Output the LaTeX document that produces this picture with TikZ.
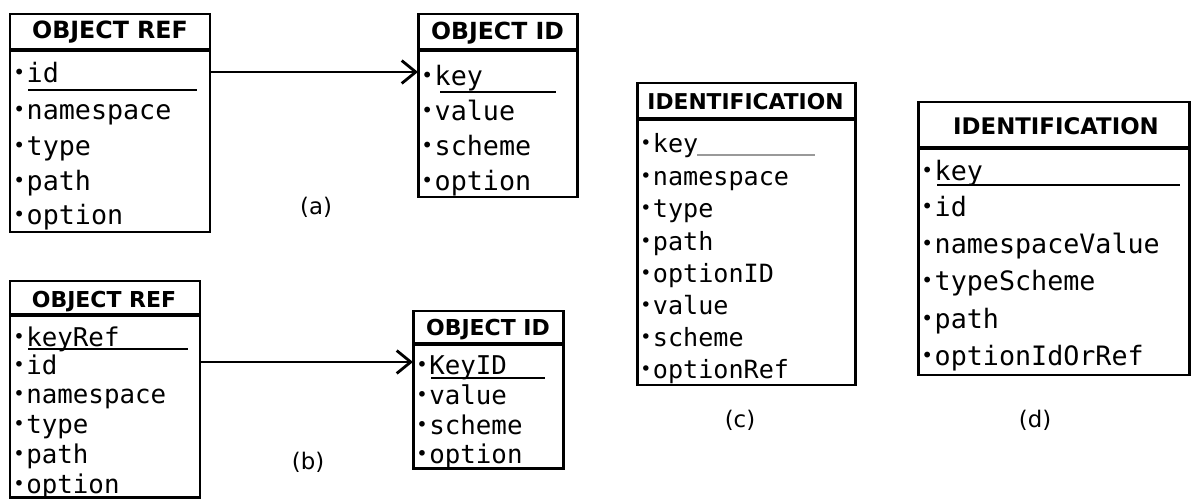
\documentclass[tikz,border=0pt]{standalone}
\usepackage{fontspec}
\setmainfont{DejaVu Sans}
\newfontfamily\monof{DejaVu Sans Mono}
\usetikzlibrary{arrows.meta}
\newcommand\bul{\makebox[0.5em][l]{\raisebox{0.25ex}{\scalebox{0.75}{\rmfamily •}}}}
\tikzset{
  entity/.style={draw=black, line width=1.7pt, anchor=north west, inner sep=0pt, outer sep=0pt},
  sep/.style={line width=1.8pt},
  title/.style={inner sep=0pt},
  row/.style={anchor=west, inner sep=0pt, text height=0.75em, text depth=0.2em, yshift=-6*0.02cm},
  uline/.style={line width=0.9pt},
  sublabel/.style={font=\fontsize{13}{15}\selectfont, inner sep=0pt},
  rel/.style={line width=1.6pt, -{Straight Barb[length=8pt,width=13pt,line width=1.6pt]}}
}
\begin{document}
\begin{tikzpicture}[x=0.02cm,y=-0.02cm]
\useasboundingbox (0,0) rectangle (1192,500);
% ---------- (a) ----------
\node[entity, minimum width=200*0.02cm, minimum height=218*0.02cm] (aref) at (10,14) {};
\draw[sep] (aref.west |- 0,50) -- (aref.east |- 0,50);
\node[title, font=\fontsize{13.5}{15}\selectfont\bfseries] (areft) at (110,32) {OBJECT REF};
\begin{scope}[every node/.append style={font=\fontsize{15.2}{17}\selectfont\monof}]
\node[row] (aid) at (13,72) {\bul id};
\node[row] (ans) at (13,109) {\bul namespace};
\node[row] (atype) at (13,145) {\bul type};
\node[row] (apath) at (13,180) {\bul path};
\node[row] (aopt) at (13,214) {\bul option};
\end{scope}
\draw[uline] (28,90) -- (197,90);

\node[entity, minimum width=159*0.02cm, minimum height=183*0.02cm] (aobj) at (418,14) {};
\draw[sep] (aobj.west |- 0,50) -- (aobj.east |- 0,50);
\node[title, font=\fontsize{13.4}{15}\selectfont\bfseries] (aobjt) at (497.5,33) {OBJECT ID};
\begin{scope}[every node/.append style={font=\fontsize{15.2}{17}\selectfont\monof}]
\node[row] (akey) at (421,75) {\bul key};
\node[row] (aval) at (421,110) {\bul value};
\node[row] (asch) at (421,145) {\bul scheme};
\node[row] (aoo) at (421,180) {\bul option};
\end{scope}
\draw[uline] (440,92) -- (556,92);
\draw[rel] (aref.east |- 0,72) -- (aobj.west |- 0,72);
\node[sublabel] (la) at (316,207) {(a)};

% ---------- (b) ----------
\node[entity, minimum width=190*0.02cm, minimum height=216*0.02cm] (bref) at (10,281) {};
\draw[sep] (bref.west |- 0,315) -- (bref.east |- 0,315);
\node[title, font=\fontsize{12.5}{15}\selectfont\bfseries] (breft) at (104,302) {OBJECT REF};
\begin{scope}[every node/.append style={font=\fontsize{14.7}{16}\selectfont\monof}]
\node[row] (bkr) at (13,336) {\bul keyRef};
\node[row] (bid) at (13,364) {\bul id};
\node[row] (bns) at (13,393) {\bul namespace};
\node[row] (btype) at (13,423) {\bul type};
\node[row] (bpath) at (13,453) {\bul path};
\node[row] (bopt) at (13,483) {\bul option};
\end{scope}
\draw[uline] (28,349) -- (188,349);

\node[entity, minimum width=150*0.02cm, minimum height=157*0.02cm] (bobj) at (413,311) {};
\draw[sep] (bobj.west |- 0,344) -- (bobj.east |- 0,344);
\node[title, font=\fontsize{12.5}{15}\selectfont\bfseries] (bobjt) at (488,330) {OBJECT ID};
\begin{scope}[every node/.append style={font=\fontsize{14.7}{16}\selectfont\monof}]
\node[row] (bkey) at (416,364) {\bul KeyID};
\node[row] (bval) at (416,394) {\bul value};
\node[row] (bsch) at (416,424) {\bul scheme};
\node[row] (boo) at (416,453) {\bul option};
\end{scope}
\draw[uline] (431,378) -- (545,378);
\draw[rel] (bref.east |- 0,362) -- (bobj.west |- 0,362);
\node[sublabel] (lb) at (308,462) {(b)};

% ---------- (c) ----------
\node[entity, minimum width=218*0.02cm, minimum height=302*0.02cm] (cid) at (637,83) {};
\draw[sep] (cid.west |- 0,119) -- (cid.east |- 0,119);
\node[title, font=\fontsize{12.4}{15}\selectfont\bfseries] (cidt) at (745.5,102) {IDENTIFICATION};
\begin{scope}[every node/.append style={font=\fontsize{14.3}{16}\selectfont\monof}]
\node[row] (ckey) at (640,142) {\bul key};
\node[row] (cns) at (640,175) {\bul namespace};
\node[row] (ctype) at (640,207) {\bul type};
\node[row] (cpath) at (640,240) {\bul path};
\node[row] (coid) at (640,272) {\bul optionID};
\node[row] (cval) at (640,304) {\bul value};
\node[row] (csch) at (640,336) {\bul scheme};
\node[row] (coref) at (640,368) {\bul optionRef};
\end{scope}
\draw[uline, black!40] (697,155) -- (815,155);
\node[sublabel] (lc) at (740,420) {(c)};

% ---------- (d) ----------
\node[entity, minimum width=271*0.02cm, minimum height=273*0.02cm] (did) at (918,102) {};
\draw[sep] (did.west |- 0,148) -- (did.east |- 0,148);
\node[title, font=\fontsize{13}{15}\selectfont\bfseries] (didt) at (1056,126) {IDENTIFICATION};
\begin{scope}[every node/.append style={font=\fontsize{15.2}{17}\selectfont\monof}]
\node[row] (dkey) at (921,170) {\bul key};
\node[row] (did2) at (921,206) {\bul id};
\node[row] (dns) at (921,243) {\bul namespaceValue};
\node[row] (dts) at (921,280) {\bul typeScheme};
\node[row] (dpath) at (921,318) {\bul path};
\node[row] (dopt) at (921,355) {\bul optionIdOrRef};
\end{scope}
\draw[uline] (937,185) -- (1180,185);
\node[sublabel] (ld) at (1035,420) {(d)};
\end{tikzpicture}
\end{document}
